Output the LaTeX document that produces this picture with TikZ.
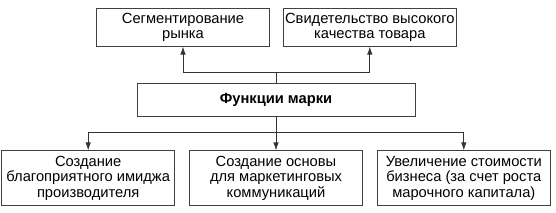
\documentclass[tikz,border=0pt]{standalone}
\usepackage{fontspec}
\setmainfont{Liberation Sans}
\usetikzlibrary{arrows.meta, positioning}

\begin{document}
\begin{tikzpicture}[
    node distance=34pt and 14pt,
    box/.style={rectangle, draw=black!75, line width=0.8pt,
                minimum width=173pt, minimum height=38pt, inner sep=1pt,
                align=center, font=\fontsize{14.7}{15.4}\selectfont},
    lowbox/.style={box, minimum height=55pt},
    arrow/.style={-{Latex[length=8pt, width=5.5pt]}, line width=0.8pt, black!80}
]

\node[box, minimum width=278pt, minimum height=33pt] (brand) {\textbf{Функции марки}};
\node[box, above=36pt of brand, xshift=-93pt] (segm) {Сегментирование\\рынка};
\node[box, right=13pt of segm] (quality) {Свидетельство высокого\\качества товара};

\node[lowbox, below=of brand] (comm) {Создание основы\\для маркетинговых\\коммуникаций};
\node[lowbox, left=of comm] (image) {Создание\\благоприятного имиджа\\производителя};
\node[lowbox, right=of comm] (value) {Увеличение стоимости\\бизнеса (за счет роста\\марочного капитала)};

\useasboundingbox ([shift={(-276pt,-113.5pt)}]brand.center)
    rectangle ([shift={(280pt,99.5pt)}]brand.center);

\draw[arrow] (brand.north) -- ++(0,10pt) -| (segm.south);
\draw[arrow] (brand.north) -- ++(0,10pt) -| (quality.south);

\draw[arrow] (brand.south) -- ++(0,-16pt) -| (image.north);
\draw[arrow] (brand.south) -- (comm.north);
\draw[arrow] (brand.south) -- ++(0,-16pt) -| (value.north);

\end{tikzpicture}
\end{document}
